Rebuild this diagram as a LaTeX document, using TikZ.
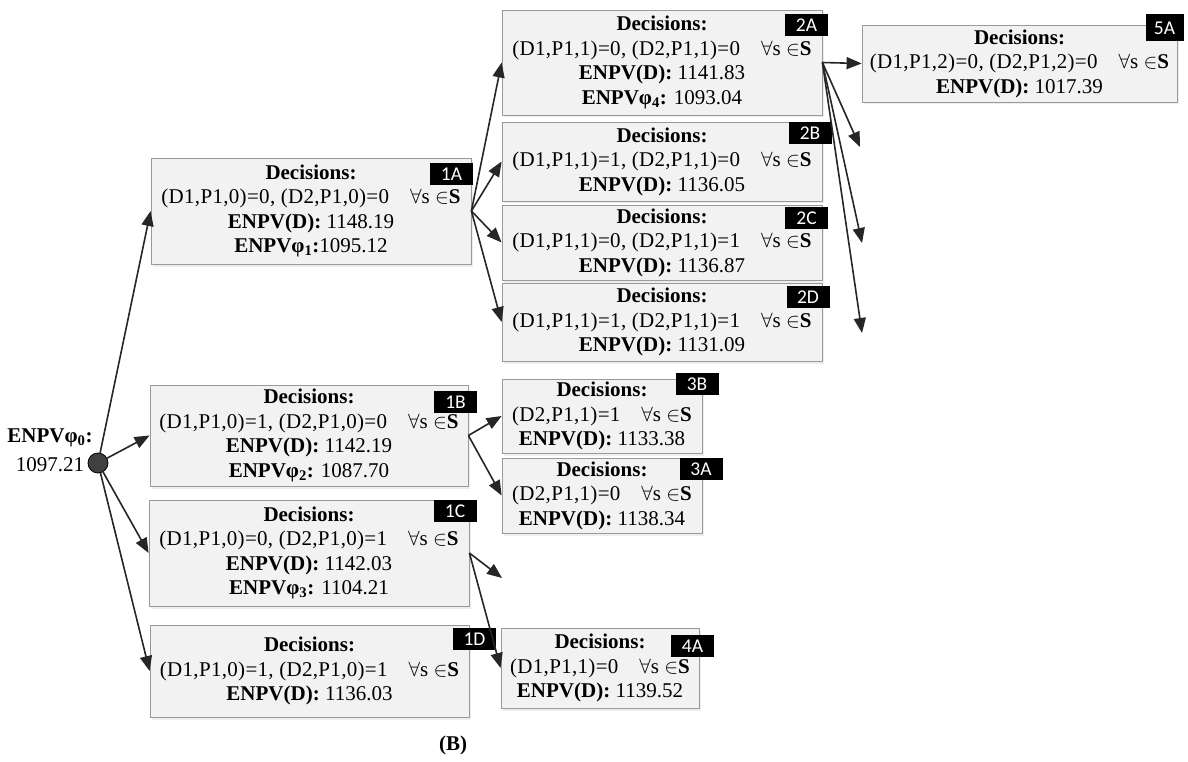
\documentclass[tikz,border=0pt]{standalone}
\usepackage{fontspec}
\setmainfont{Liberation Serif}
\newfontfamily\tagfont{Carlito}
\usetikzlibrary{arrows.meta,shadows}
\newcommand{\allS}{\quad$\forall$s $\in$\textbf{S}}
\newcommand{\decs}[1]{{\addfontfeature{LetterSpace=1.5}#1}}

\begin{document}
\begin{tikzpicture}[x=1pt,y=-1pt,>={Triangle[length=15pt,width=12pt]},
  box/.style={draw=black!40,fill=black!5,line width=0.8pt,align=center,inner sep=0pt,
    font=\fontsize{21}{24.5}\selectfont,
    drop shadow={shadow xshift=1.5pt,shadow yshift=-2.5pt,fill=blue!30!black!25,opacity=0.3}},
  tag/.style={fill=black,text=white,font=\tagfont\fontsize{19.5}{19.5}\selectfont,
    minimum width=43,minimum height=22,inner sep=0pt},
  arr/.style={->,draw=black!85,line width=1.6pt}]
\useasboundingbox (0,0) rectangle (1188,762);
\tikzstyle{every node}=[font=\fontsize{21}{25}\selectfont]

% root
\node[circle,draw=black,fill=black!75,line width=0.8pt,minimum size=20,inner sep=0pt] (root) at (98,463) {};
\node[font=\bfseries\fontsize{21}{25}\selectfont] (rootname) at (50,438) {ENPVφ\textsubscript{0}:};
\node (rootval) at (50,465) {1097.21};

% first stage
\node[box,minimum width=320,minimum height=106] (b1A) at (311,211)
  {\textbf{Decisions:}\\\decs{(D1,P1,0)=0, (D2,P1,0)=0}\allS\\\textbf{ENPV(D):} 1148.19\\\textbf{ENPVφ\textsubscript{1}:}1095.12};
\node[box,minimum width=318,minimum height=101] (b1B) at (309,435.5)
  {\textbf{Decisions:}\\\decs{(D1,P1,0)=1, (D2,P1,0)=0}\allS\\\textbf{ENPV(D):} 1142.19\\\textbf{ENPVφ\textsubscript{2}:} 1087.70};
\node[box,minimum width=320,minimum height=106] (b1C) at (309,553)
  {\textbf{Decisions:}\\\decs{(D1,P1,0)=0, (D2,P1,0)=1}\allS\\\textbf{ENPV(D):} 1142.03\\\textbf{ENPVφ\textsubscript{3}:} 1104.21};
\node[box,minimum width=319,minimum height=92] (b1D) at (309.5,671)
  {\textbf{Decisions:}\\\decs{(D1,P1,0)=1, (D2,P1,0)=1}\allS\\\textbf{ENPV(D):} 1136.03};

% second stage
\node[box,minimum width=320,minimum height=105] (b2A) at (662,62.5)
  {\textbf{Decisions:}\\\decs{(D1,P1,1)=0, (D2,P1,1)=0}\allS\\\textbf{ENPV(D):} 1141.83\\\textbf{ENPVφ\textsubscript{4}:} 1093.04};
\node[box,minimum width=320,minimum height=79] (b2B) at (662,161.5)
  {\textbf{Decisions:}\\\decs{(D1,P1,1)=1, (D2,P1,1)=0}\allS\\\textbf{ENPV(D):} 1136.05};
\node[box,minimum width=320,minimum height=75] (b2C) at (662,242.5)
  {\textbf{Decisions:}\\\decs{(D1,P1,1)=0, (D2,P1,1)=1}\allS\\\textbf{ENPV(D):} 1136.87};
\node[box,minimum width=320,minimum height=78] (b2D) at (662,322)
  {\textbf{Decisions:}\\\decs{(D1,P1,1)=1, (D2,P1,1)=1}\allS\\\textbf{ENPV(D):} 1131.09};
\node[box,minimum width=200,minimum height=74] (b3B) at (602,416)
  {\textbf{Decisions:}\\\decs{(D2,P1,1)=1}\allS\\\textbf{ENPV(D):} 1133.38};
\node[box,minimum width=200,minimum height=75] (b3A) at (602,495.5)
  {\textbf{Decisions:}\\\decs{(D2,P1,1)=0}\allS\\\textbf{ENPV(D):} 1138.34};
\node[box,minimum width=198,minimum height=80] (b4A) at (600,668)
  {\textbf{Decisions:}\\\decs{(D1,P1,1)=0}\allS\\\textbf{ENPV(D):} 1139.52};

% third stage
\node[box,minimum width=315,minimum height=77] (b5A) at (1019.5,63.5)
  {\textbf{Decisions:}\\\decs{(D1,P1,2)=0, (D2,P1,2)=0}\allS\\\textbf{ENPV(D):} 1017.39};

% tags
\node[tag] (t1A) at (451.5,174) {1A};
\node[tag] (t1B) at (455.5,402) {1B};
\node[tag] (t1C) at (455,511) {1C};
\node[tag] (t1D) at (474.5,639) {1D};
\node[tag] (t2A) at (806.5,25) {2A};
\node[tag] (t2B) at (810,133) {2B};
\node[tag] (t2C) at (806.5,218) {2C};
\node[tag] (t2D) at (808,297) {2D};
\node[tag] (t3B) at (697,384) {3B};
\node[tag] (t3A) at (701,469) {3A};
\node[tag] (t4A) at (692.5,646) {4A};
\node[tag,minimum width=38,minimum height=27] (t5A) at (1164.5,28) {5A};

% open branches
\coordinate (o2A1) at (860,147);
\coordinate (o2A2) at (862,243);
\coordinate (o2A3) at (862,333);
\coordinate (o1C) at (502,578);

\draw[arr] (root) -- (b1A.west);
\draw[arr] (root) -- (b1B.west);
\draw[arr] (root) -- (b1C.west);
\draw[arr] (root) -- (b1D.west);

\draw[arr] (b1A.east) -- (b2A.west);
\draw[arr] (b1A.east) -- (b2B.west);
\draw[arr] (b1A.east) -- (b2C.west);
\draw[arr] (b1A.east) -- (b2D.west);

\draw[arr] (b2A.east) -- (b5A.west);
\draw[arr] (b2A.east) -- (o2A1);
\draw[arr] (b2A.east) -- (o2A2);
\draw[arr] (b2A.east) -- (o2A3);

\draw[arr] (b1B.east) -- (b3B.west);
\draw[arr] (b1B.east) -- (b3A.west);
\draw[arr] (b1C.east) -- (o1C);
\draw[arr] (b1C.east) -- (b4A.west);

\node[font=\bfseries\fontsize{21}{25}\selectfont] (cap) at (453,745) {(B)};
\end{tikzpicture}
\end{document}
